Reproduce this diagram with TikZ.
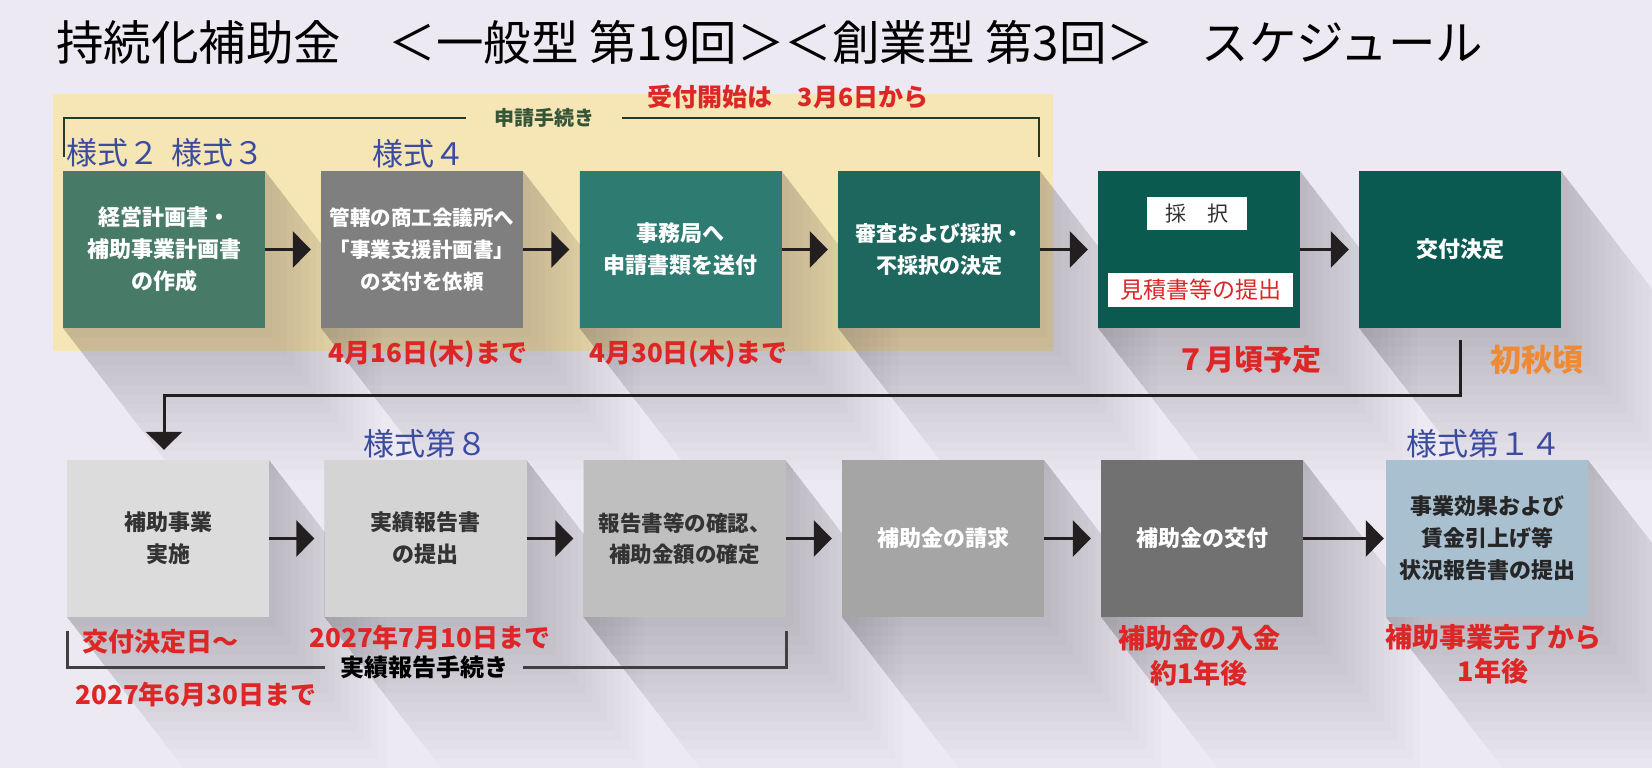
\documentclass[tikz,border=0pt]{standalone}
\usepackage{fontspec}
\setmainfont{Noto Sans CJK JP}
\usetikzlibrary{arrows.meta,calc}
\definecolor{bgL}{HTML}{EDE9F2}
\definecolor{beigeL}{HTML}{F6E6B6}
\definecolor{cA}{HTML}{487A68}
\definecolor{cB}{HTML}{7F7F7F}
\definecolor{cC}{HTML}{2E7B72}
\definecolor{cD}{HTML}{1E675E}
\definecolor{cE}{HTML}{0B5A50}
\definecolor{cF}{HTML}{0A5A52}
\definecolor{cG}{HTML}{DCDCDC}
\definecolor{cH}{HTML}{D4D4D4}
\definecolor{cI}{HTML}{BFBFBF}
\definecolor{cJ}{HTML}{A5A5A5}
\definecolor{cK}{HTML}{717171}
\definecolor{cL}{HTML}{A8C0D0}
\definecolor{blueL}{HTML}{3B4BA0}
\definecolor{redL}{HTML}{DD2626}
\definecolor{orangeL}{HTML}{EE8A34}
\definecolor{greenL}{HTML}{365436}
\definecolor{arrowL}{HTML}{231F20}
\definecolor{darkT}{HTML}{333333}
\newcommand\fsz[2]{\fontsize{#1}{#2}\selectfont}
\newcommand\lshadow[2]{%
  \foreach \k in {1,...,16}{%
    \pgfmathsetmacro\ss{12*\k}%
    \fill[black,opacity=0.013] (#1-101,#2) -- (#1+101,#2) -- ++({0.61*\ss},{0.79*\ss}) -- ++(0,157) -- ++(-202,0) -- (#1-101,#2+157) -- cycle;
  }}
\tikzset{
  stepbox/.style={minimum width=202pt, minimum height=157pt, inner sep=0pt, align=center, font=\fsz{22}{32}\bfseries},
  yoshiki/.style={text=blueL, inner sep=0pt, font=\fsz{31}{34}},
  redlab/.style={text=redL, inner sep=0pt, align=center, font=\fsz{26}{35}\bfseries},
  flowarrow/.style={draw=arrowL, line width=3pt, -{Triangle[length=18pt,width=36pt]}, shorten >=10pt},
}
\begin{document}
\begin{tikzpicture}[x=1pt,y=-1pt]
\useasboundingbox (0,0) rectangle (1652,768);
\fill[bgL] (0,0) rectangle (1652,768);
\fill[beigeL] (52.7,94) rectangle (1053,351);
% shadows
\lshadow{164}{171}
\lshadow{422}{171}
\lshadow{680.5}{171}
\lshadow{939}{171}
\lshadow{1199}{171}
\lshadow{1460}{171}
\lshadow{168}{460}
\lshadow{425.5}{460}
\lshadow{684.5}{460}
\lshadow{943}{460}
\lshadow{1202}{460}
\lshadow{1487}{460}
% title
\node[anchor=west, inner sep=0pt, font=\fsz{47.5}{52}, text=black] (title) at (56,42) {持続化補助金　＜一般型 第19回＞＜創業型 第3回＞　スケジュール};
\node[text=redL, inner sep=0pt, font=\fsz{25}{28}\bfseries] (uketsuke) at (788,97) {受付開始は　3月6日から};
% top bracket
\node[text=greenL, inner sep=0pt, minimum width=156pt, font=\fsz{20}{24}\bfseries] (shinsei) at (544,118) {申請手続き};
\coordinate (sqL) at (64,157);
\coordinate (sqR) at (1039,157);
\draw[greenL!70!black, line width=2.5pt] (sqL) |- (shinsei.west);
\draw[greenL!70!black, line width=2.5pt] (shinsei.east) -| (sqR);
% row 1 boxes
\node[stepbox, fill=cA, text=white] (b1) at (164,249.5) {経営計画書・\\補助事業計画書\\の作成};
\node[stepbox, fill=cB, text=white, font=\fsz{20.5}{32}\bfseries] (b2) at (422,249.5) {管轄の商工会議所へ\\「事業支援計画書」\\の交付を依頼};
\node[stepbox, fill=cC, text=white] (b3) at (680.5,249.5) {事務局へ\\申請書類を送付};
\node[stepbox, fill=cD, text=white, font=\fsz{21}{32}\bfseries] (b4) at (939,249.5) {審査および採択・\\不採択の決定};
\node[stepbox, fill=cE] (b5) at (1199,249.5) {};
\node[fill=white, minimum width=100pt, minimum height=33pt, inner sep=0pt, text=darkT, font=\fsz{21}{24}] (saitaku) at (1197,213.5) {採　択};
\node[fill=white, minimum width=185pt, minimum height=34pt, inner sep=0pt, text=redL, font=\fsz{23}{26}] (mitsumori) at (1200.5,290) {見積書等の提出};
\node[stepbox, fill=cF, text=white] (b6) at (1460,249.5) {交付決定};
% row 1 arrows
\draw[flowarrow] (b1.east) -- (b2.west);
\draw[flowarrow] (b2.east) -- (b3.west);
\draw[flowarrow] (b3.east) -- (b4.west);
\draw[flowarrow] (b4.east) -- (b5.west);
\draw[flowarrow] (b5.east) -- (b6.west);
% row 1 labels
\node[yoshiki] (y23) at (165.5,152.5) {様式２ \hspace{5pt}様式３};
\node[yoshiki] (y4) at (419,153.5) {様式４};
\node[redlab] (d1) at (428,354) {4月16日(木)まで};
\node[redlab] (d2) at (688.5,354) {4月30日(木)まで};
\node[redlab, font=\fsz{29}{32}\bfseries] (d3) at (1249,359.5) {７月頃予定};
\node[text=orangeL, inner sep=0pt, font=\fsz{31}{34}\bfseries] (shoshu) at (1537,360) {初秋頃};
% row 2 boxes
\node[stepbox, fill=cG, text=darkT] (b7) at (168,538.5) {補助事業\\実施};
\node[stepbox, fill=cH, text=darkT] (b8) at (425.5,538.5) {実績報告書\\の提出};
\node[stepbox, fill=cI, text=darkT, font=\fsz{21.5}{31}\bfseries] (b9) at (684.5,538.5) {報告書等の確認、\\補助金額の確定};
\node[stepbox, fill=cJ, text=white] (b10) at (943,538.5) {補助金の請求};
\node[stepbox, fill=cK, text=white] (b11) at (1202,538.5) {補助金の交付};
\node[stepbox, fill=cL, text=black!85] (b12) at (1487,538.5) {事業効果および\\賃金引上げ等\\状況報告書の提出};
% connector row1 -> row2
\coordinate (c6top) at (1460,340);
\coordinate (c6turn) at (1460,395);
\draw[flowarrow] (c6top) -- (c6turn) -| ([xshift=-4pt]b7.north);
% row 2 arrows
\draw[flowarrow] (b7.east) -- (b8.west);
\draw[flowarrow] (b8.east) -- (b9.west);
\draw[flowarrow] (b9.east) -- (b10.west);
\draw[flowarrow] (b10.east) -- (b11.west);
\draw[flowarrow, shorten >=2pt] (b11.east) -- (b12.west);
% row 2 labels
\node[yoshiki] (y8) at (425.5,443.5) {様式第８};
\node[yoshiki] (y14) at (1484,443.5) {様式第１４};
\node[redlab] (d4) at (160,642) {交付決定日～};
\node[redlab] (d5) at (430,637.5) {2027年7月10日まで};
\node[redlab] (d6) at (196,695) {2027年6月30日まで};
\node[redlab, font=\fsz{27}{35}\bfseries] (d7) at (1199,655.5) {補助金の入金\\約1年後};
\node[redlab, font=\fsz{27}{34}\bfseries] (d8) at (1493,654) {補助事業完了から\\1年後};
% bottom bracket
\node[text=black, inner sep=0pt, minimum width=198pt, font=\fsz{24}{28}\bfseries] (jisseki) at (424,667.5) {実績報告手続き};
\coordinate (jbL) at (67,631);
\coordinate (jbR) at (786.5,631);
\draw[black!75, line width=3pt] (jbL) |- (jisseki.west);
\draw[black!75, line width=3pt] (jisseki.east) -| (jbR);
\end{tikzpicture}
\end{document}
